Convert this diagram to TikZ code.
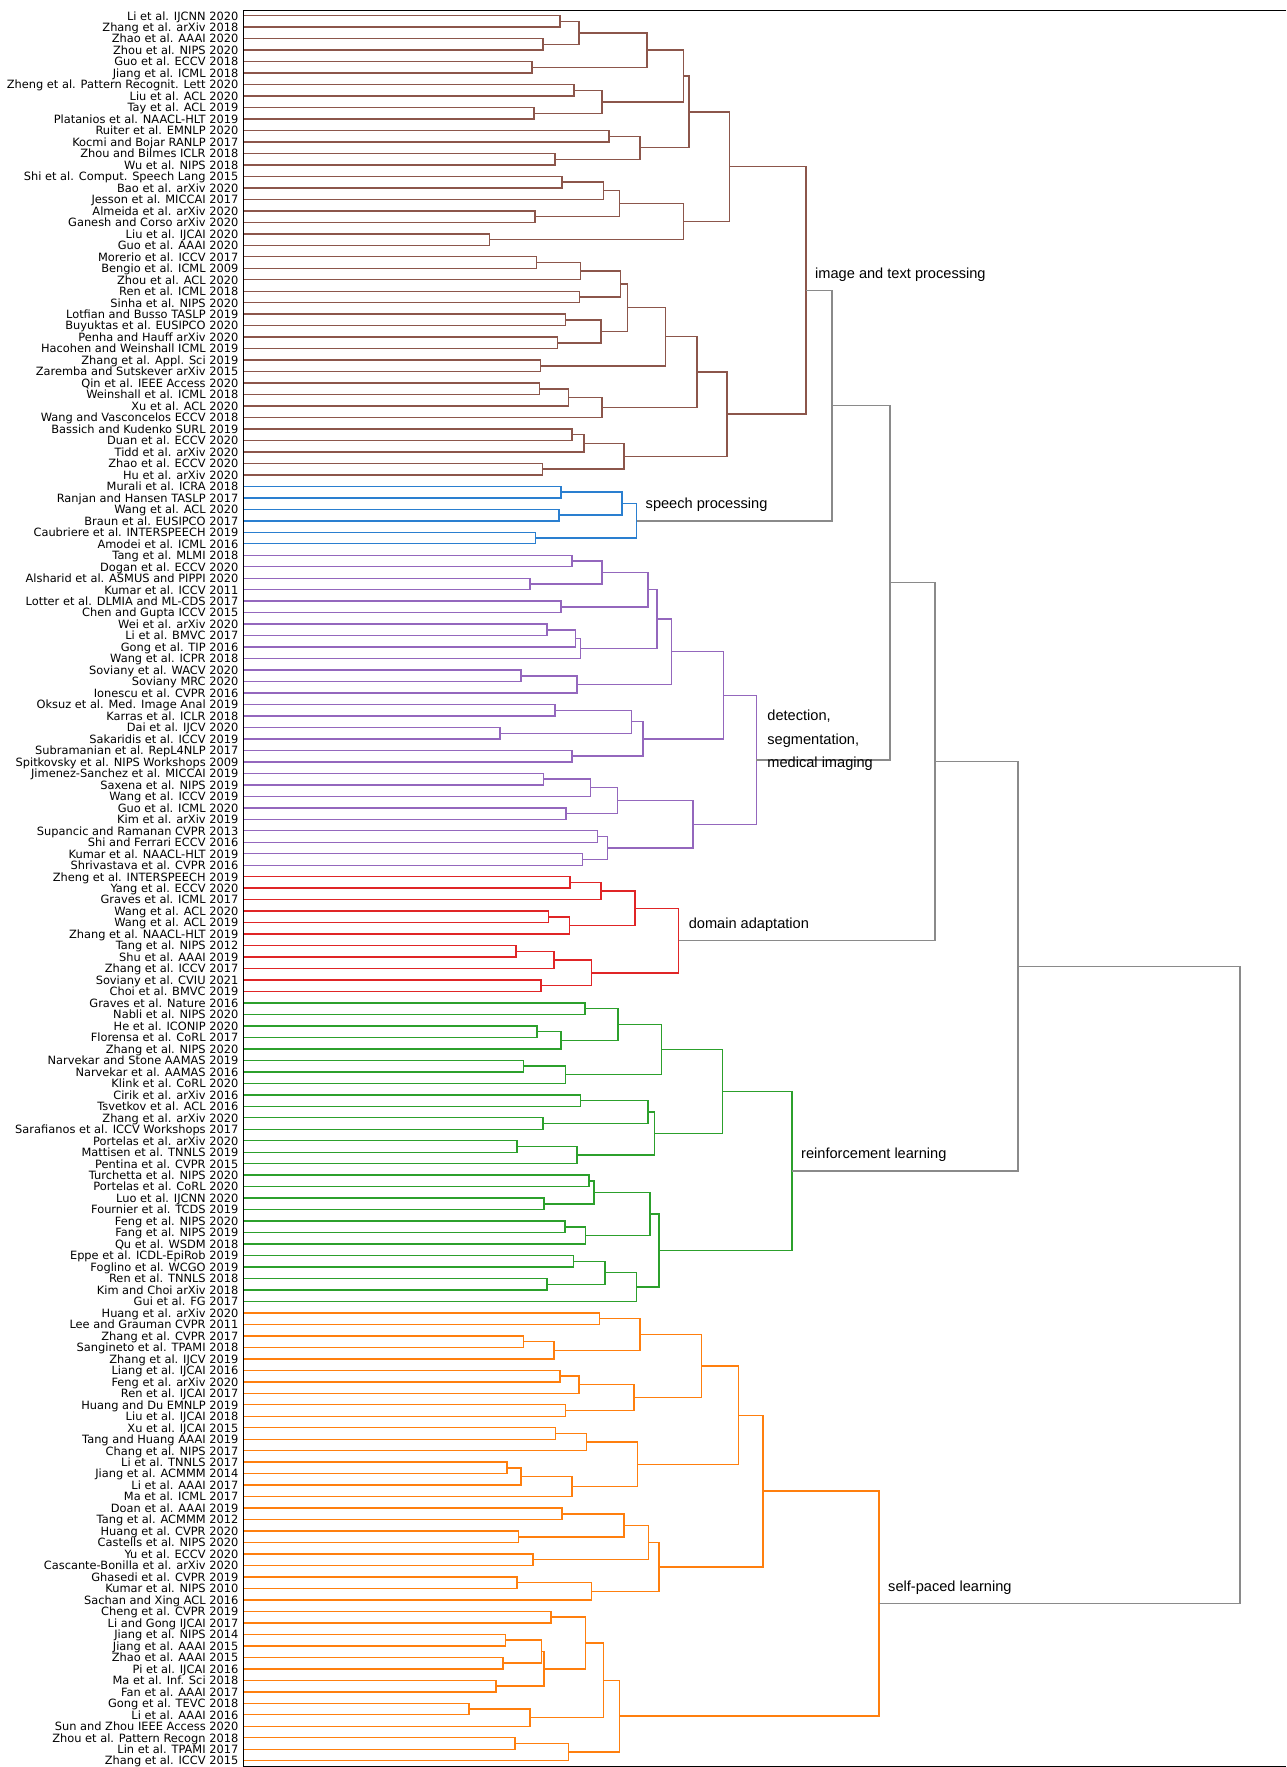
\documentclass[tikz,border=0pt]{standalone}
\usepackage{fontspec}
\setmainfont{DejaVu Sans}
\newfontfamily\lblfont{Liberation Sans}
\usetikzlibrary{calc}
\definecolor{cbrown}{HTML}{8C564B}
\definecolor{cblue}{HTML}{2A7FD0}
\definecolor{cpurple}{HTML}{9467BD}
\definecolor{cred}{HTML}{E02526}
\definecolor{cgreen}{HTML}{2CA02C}
\definecolor{corange}{HTML}{FF7F0E}
\definecolor{cgray}{HTML}{8A8A8A}
\tikzset{
  leaf/.style={anchor=base east, inner sep=0pt, font=\fontsize{11.4}{11.4}\selectfont},
  lk/.style={line width=1.4pt},
  bl/.style={lk, draw=cbrown},
  bu/.style={lk, draw=cblue},
  pu/.style={lk, draw=cpurple},
  rd/.style={lk, draw=cred},
  gr/.style={lk, draw=cgreen},
  or/.style={lk, draw=corange},
  gy/.style={lk, draw=cgray},
  clab/.style={anchor=west, inner sep=0pt, align=left, font=\lblfont\fontsize{14.6}{23.6}\selectfont},
  spine/.style={line width=0.9pt, draw=black}
}
\newcommand\mg[5]{%
  \coordinate (tmpm) at ($(#2)!0.5!(#3)$);
  \coordinate (tmph) at (#4,0);
  \coordinate (#1) at (tmpm -| tmph);
  \draw[#5] (#2) -- (#2 -| #1) -- (#3 -| #1) -- (#3);
}
\begin{document}
\begin{tikzpicture}[x=1pt,y=-1pt]
\useasboundingbox (0,0) rectangle (1286,1767);
\foreach \lab [count=\i] in {
Li et al. IJCNN 2020,
Zhang et al. arXiv 2018,
Zhao et al. AAAI 2020,
Zhou et al. NIPS 2020,
Guo et al. ECCV 2018,
Jiang et al. ICML 2018,
Zheng et al. Pattern Recognit. Lett 2020,
Liu et al. ACL 2020,
Tay et al. ACL 2019,
Platanios et al. NAACL-HLT 2019,
Ruiter et al. EMNLP 2020,
Kocmi and Bojar RANLP 2017,
Zhou and Bilmes ICLR 2018,
Wu et al. NIPS 2018,
Shi et al. Comput. Speech Lang 2015,
Bao et al. arXiv 2020,
Jesson et al. MICCAI 2017,
Almeida et al. arXiv 2020,
Ganesh and Corso arXiv 2020,
Liu et al. IJCAI 2020,
Guo et al. AAAI 2020,
Morerio et al. ICCV 2017,
Bengio et al. ICML 2009,
Zhou et al. ACL 2020,
Ren et al. ICML 2018,
Sinha et al. NIPS 2020,
Lotfian and Busso TASLP 2019,
Buyuktas et al. EUSIPCO 2020,
Penha and Hauff arXiv 2020,
Hacohen and Weinshall ICML 2019,
Zhang et al. Appl. Sci 2019,
Zaremba and Sutskever arXiv 2015,
Qin et al. IEEE Access 2020,
Weinshall et al. ICML 2018,
Xu et al. ACL 2020,
Wang and Vasconcelos ECCV 2018,
Bassich and Kudenko SURL 2019,
Duan et al. ECCV 2020,
Tidd et al. arXiv 2020,
Zhao et al. ECCV 2020,
Hu et al. arXiv 2020,
Murali et al. ICRA 2018,
Ranjan and Hansen TASLP 2017,
Wang et al. ACL 2020,
Braun et al. EUSIPCO 2017,
Caubriere et al. INTERSPEECH 2019,
Amodei et al. ICML 2016,
Tang et al. MLMI 2018,
Dogan et al. ECCV 2020,
Alsharid et al. ASMUS and PIPPI 2020,
Kumar et al. ICCV 2011,
Lotter et al. DLMIA and ML-CDS 2017,
Chen and Gupta ICCV 2015,
Wei et al. arXiv 2020,
Li et al. BMVC 2017,
Gong et al. TIP 2016,
Wang et al. ICPR 2018,
Soviany et al. WACV 2020,
Soviany MRC 2020,
Ionescu et al. CVPR 2016,
Oksuz et al. Med. Image Anal 2019,
Karras et al. ICLR 2018,
Dai et al. IJCV 2020,
Sakaridis et al. ICCV 2019,
Subramanian et al. RepL4NLP 2017,
Spitkovsky et al. NIPS Workshops 2009,
Jimenez-Sanchez et al. MICCAI 2019,
Saxena et al. NIPS 2019,
Wang et al. ICCV 2019,
Guo et al. ICML 2020,
Kim et al. arXiv 2019,
Supancic and Ramanan CVPR 2013,
Shi and Ferrari ECCV 2016,
Kumar et al. NAACL-HLT 2019,
Shrivastava et al. CVPR 2016,
Zheng et al. INTERSPEECH 2019,
Yang et al. ECCV 2020,
Graves et al. ICML 2017,
Wang et al. ACL 2020,
Wang et al. ACL 2019,
Zhang et al. NAACL-HLT 2019,
Tang et al. NIPS 2012,
Shu et al. AAAI 2019,
Zhang et al. ICCV 2017,
Soviany et al. CVIU 2021,
Choi et al. BMVC 2019,
Graves et al. Nature 2016,
Nabli et al. NIPS 2020,
He et al. ICONIP 2020,
Florensa et al. CoRL 2017,
Zhang et al. NIPS 2020,
Narvekar and Stone AAMAS 2019,
Narvekar et al. AAMAS 2016,
Klink et al. CoRL 2020,
Cirik et al. arXiv 2016,
Tsvetkov et al. ACL 2016,
Zhang et al. arXiv 2020,
Sarafianos et al. ICCV Workshops 2017,
Portelas et al. arXiv 2020,
Mattisen et al. TNNLS 2019,
Pentina et al. CVPR 2015,
Turchetta et al. NIPS 2020,
Portelas et al. CoRL 2020,
Luo et al. IJCNN 2020,
Fournier et al. TCDS 2019,
Feng et al. NIPS 2020,
Fang et al. NIPS 2019,
Qu et al. WSDM 2018,
Eppe et al. ICDL-EpiRob 2019,
Foglino et al. WCGO 2019,
Ren et al. TNNLS 2018,
Kim and Choi arXiv 2018,
Gui et al. FG 2017,
Huang et al. arXiv 2020,
Lee and Grauman CVPR 2011,
Zhang et al. CVPR 2017,
Sangineto et al. TPAMI 2018,
Zhang et al. IJCV 2019,
Liang et al. IJCAI 2016,
Feng et al. arXiv 2020,
Ren et al. IJCAI 2017,
Huang and Du EMNLP 2019,
Liu et al. IJCAI 2018,
Xu et al. IJCAI 2015,
Tang and Huang AAAI 2019,
Chang et al. NIPS 2017,
Li et al. TNNLS 2017,
Jiang et al. ACMMM 2014,
Li et al. AAAI 2017,
Ma et al. ICML 2017,
Doan et al. AAAI 2019,
Tang et al. ACMMM 2012,
Huang et al. CVPR 2020,
Castells et al. NIPS 2020,
Yu et al. ECCV 2020,
Cascante-Bonilla et al. arXiv 2020,
Ghasedi et al. CVPR 2019,
Kumar et al. NIPS 2010,
Sachan and Xing ACL 2016,
Cheng et al. CVPR 2019,
Li and Gong IJCAI 2017,
Jiang et al. NIPS 2014,
Jiang et al. AAAI 2015,
Zhao et al. AAAI 2015,
Pi et al. IJCAI 2016,
Ma et al. Inf. Sci 2018,
Fan et al. AAAI 2017,
Gong et al. TEVC 2018,
Li et al. AAAI 2016,
Sun and Zhou IEEE Access 2020,
Zhou et al. Pattern Recogn 2018,
Lin et al. TPAMI 2017,
Zhang et al. ICCV 2015}{
  \coordinate (l\i) at (243.8, {15.7+(\i-1)*11.48});
  \node[leaf] (t\i) at (238.5, {15.7+(\i-1)*11.48+4.3}) {\lab};
}
% brown
\mg{b1}{l1}{l2}{560}{bl}
\mg{b2}{l3}{l4}{543}{bl}
\mg{b3}{b1}{b2}{579}{bl}
\mg{b4}{l5}{l6}{532}{bl}
\mg{b5}{b3}{b4}{647}{bl}
\mg{b6}{l7}{l8}{574}{bl}
\mg{b7}{l9}{l10}{534}{bl}
\mg{b8}{b6}{b7}{602}{bl}
\mg{b9}{b5}{b8}{683.5}{bl}
\mg{b10}{l11}{l12}{609}{bl}
\mg{b11}{l13}{l14}{555}{bl}
\mg{b12}{b10}{b11}{640}{bl}
\mg{b13}{b9}{b12}{689}{bl}
\mg{b14}{l15}{l16}{562}{bl}
\mg{b15}{b14}{l17}{603.5}{bl}
\mg{b16}{l18}{l19}{535}{bl}
\mg{b17}{b15}{b16}{619.5}{bl}
\mg{b18}{l20}{l21}{489.6}{bl}
\mg{b19}{b17}{b18}{683.5}{bl}
\mg{b20}{b13}{b19}{729.5}{bl}
\mg{b21}{l22}{l23}{536.6}{bl}
\mg{b22}{b21}{l24}{580.7}{bl}
\mg{b23}{l25}{l26}{579.7}{bl}
\mg{b24}{b22}{b23}{620.5}{bl}
\mg{b25}{l27}{l28}{565.7}{bl}
\mg{b26}{l29}{l30}{557.4}{bl}
\mg{b27}{b25}{b26}{601}{bl}
\mg{b28}{b24}{b27}{627.7}{bl}
\mg{b29}{l31}{l32}{540.5}{bl}
\mg{b30}{b28}{b29}{665.5}{bl}
\mg{b31}{l33}{l34}{539.5}{bl}
\mg{b32}{b31}{l35}{568.6}{bl}
\mg{b33}{b32}{l36}{602}{bl}
\mg{b34}{b30}{b33}{697}{bl}
\mg{b35}{l37}{l38}{572}{bl}
\mg{b36}{b35}{l39}{584}{bl}
\mg{b37}{l40}{l41}{542.4}{bl}
\mg{b38}{b36}{b37}{624}{bl}
\mg{b39}{b34}{b38}{727}{bl}
\mg{broot}{b20}{b39}{806}{bl}
% blue
\mg{c1}{l42}{l43}{561}{bu}
\mg{c2}{l44}{l45}{559}{bu}
\mg{c3}{c1}{c2}{622}{bu}
\mg{c4}{l46}{l47}{535.6}{bu}
\mg{croot}{c3}{c4}{636.5}{bu}
% purple
\mg{p1}{l48}{l49}{572}{pu}
\mg{p2}{l50}{l51}{530}{pu}
\mg{p3}{p1}{p2}{602}{pu}
\mg{p4}{l52}{l53}{561}{pu}
\mg{p5}{p3}{p4}{648}{pu}
\mg{p6}{l54}{l55}{546.8}{pu}
\mg{p7}{p6}{l56}{575.4}{pu}
\mg{p8}{p7}{l57}{580.2}{pu}
\mg{p9}{p5}{p8}{657}{pu}
\mg{p10}{l58}{l59}{521}{pu}
\mg{p11}{p10}{l60}{576.8}{pu}
\mg{p12}{p9}{p11}{671.4}{pu}
\mg{p13}{l61}{l62}{555}{pu}
\mg{p14}{l63}{l64}{500}{pu}
\mg{p15}{p13}{p14}{631.6}{pu}
\mg{p16}{l65}{l66}{572}{pu}
\mg{p17}{p15}{p16}{643}{pu}
\mg{p18}{p12}{p17}{723.7}{pu}
\mg{p19}{l67}{l68}{543.4}{pu}
\mg{p20}{p19}{l69}{590.4}{pu}
\mg{p21}{l70}{l71}{566}{pu}
\mg{p22}{p20}{p21}{617.5}{pu}
\mg{p23}{l72}{l73}{597.7}{pu}
\mg{p24}{l74}{l75}{582.6}{pu}
\mg{p25}{p23}{p24}{607.4}{pu}
\mg{p26}{p22}{p25}{693}{pu}
\mg{proot}{p18}{p26}{756.2}{pu}
% red
\mg{r1}{l76}{l77}{570}{rd}
\mg{r2}{r1}{l78}{601}{rd}
\mg{r3}{l79}{l80}{548.7}{rd}
\mg{r4}{r3}{l81}{569.6}{rd}
\mg{r5}{r2}{r4}{635}{rd}
\mg{r6}{l82}{l83}{515.8}{rd}
\mg{r7}{r6}{l84}{554}{rd}
\mg{r8}{l85}{l86}{541}{rd}
\mg{r9}{r7}{r8}{591.4}{rd}
\mg{rroot}{r5}{r9}{678.6}{rd}
% green
\mg{g1}{l87}{l88}{585}{gr}
\mg{g2}{l89}{l90}{537}{gr}
\mg{g3}{g2}{l91}{561}{gr}
\mg{g4}{g1}{g3}{618}{gr}
\mg{g5}{l92}{l93}{523.5}{gr}
\mg{g6}{g5}{l94}{565.7}{gr}
\mg{g7}{g4}{g6}{661.7}{gr}
\mg{g8}{l95}{l96}{580.7}{gr}
\mg{g9}{l97}{l98}{543}{gr}
\mg{g10}{g8}{g9}{648}{gr}
\mg{g11}{l99}{l100}{517}{gr}
\mg{g12}{g11}{l101}{577}{gr}
\mg{g13}{g10}{g12}{654.4}{gr}
\mg{g14}{g7}{g13}{722.3}{gr}
\mg{g15}{l102}{l103}{589}{gr}
\mg{g16}{l104}{l105}{544}{gr}
\mg{g17}{g15}{g16}{593.8}{gr}
\mg{g18}{l106}{l107}{565}{gr}
\mg{g19}{g18}{l108}{585.6}{gr}
\mg{g20}{g17}{g19}{650}{gr}
\mg{g21}{l109}{l110}{573.4}{gr}
\mg{g22}{l111}{l112}{546.8}{gr}
\mg{g23}{g21}{g22}{605}{gr}
\mg{g24}{g23}{l113}{636.5}{gr}
\mg{g25}{g20}{g24}{659}{gr}
\mg{groot}{g14}{g25}{792}{gr}
% orange
\mg{o1}{l114}{l115}{599.6}{or}
\mg{o2}{l116}{l117}{523.5}{or}
\mg{o3}{o2}{l118}{554}{or}
\mg{o4}{o1}{o3}{640}{or}
\mg{o5}{l119}{l120}{560}{or}
\mg{o6}{o5}{l121}{579}{or}
\mg{o7}{l122}{l123}{565.7}{or}
\mg{o8}{o6}{o7}{634}{or}
\mg{o9}{o4}{o8}{701.4}{or}
\mg{o10}{l124}{l125}{555.5}{or}
\mg{o11}{o10}{l126}{586.5}{or}
\mg{o12}{l127}{l128}{507}{or}
\mg{o13}{o12}{l129}{521}{or}
\mg{o14}{o13}{l130}{572}{or}
\mg{o15}{o11}{o14}{637.4}{or}
\mg{o16}{o9}{o15}{738.3}{or}
\mg{o17}{l131}{l132}{562}{or}
\mg{o18}{l133}{l134}{518.7}{or}
\mg{o19}{o17}{o18}{624}{or}
\mg{o20}{l135}{l136}{533}{or}
\mg{o21}{o19}{o20}{648.6}{or}
\mg{o22}{l137}{l138}{517}{or}
\mg{o23}{o22}{l139}{591.4}{or}
\mg{o24}{o21}{o23}{659}{or}
\mg{o25}{o16}{o24}{763}{or}
\mg{o26}{l140}{l141}{551}{or}
\mg{o27}{l142}{l143}{505.6}{or}
\mg{o28}{l144}{l145}{503}{or}
\mg{o29}{o27}{o28}{541.5}{or}
\mg{o30}{l146}{l147}{496}{or}
\mg{o31}{o29}{o30}{544}{or}
\mg{o32}{o26}{o31}{585.6}{or}
\mg{o33}{l148}{l149}{469}{or}
\mg{o34}{o33}{l150}{530}{or}
\mg{o35}{o32}{o34}{603.5}{or}
\mg{o36}{l151}{l152}{514.8}{or}
\mg{o37}{o36}{l153}{568.6}{or}
\mg{o38}{o35}{o37}{619.5}{or}
\mg{oroot}{o25}{o38}{879}{or}
% gray upper links
\mg{G1}{broot}{croot}{832}{gy}
\mg{G2}{G1}{proot}{890}{gy}
\mg{G3}{G2}{rroot}{935}{gy}
\mg{G4}{G3}{groot}{1018}{gy}
\mg{G5}{G4}{oroot}{1240}{gy}
% cluster labels
\node[clab] (lab1) at ($(broot)+(9,-16)$) {image and text processing};
\node[clab] (lab2) at ($(croot)+(9,-16)$) {speech processing};
\node[clab] (lab3) at ($(proot)+(11,-19.5)$) {detection,\\segmentation,\\medical imaging};
\node[clab] (lab4) at ($(rroot)+(10,-16)$) {domain adaptation};
\node[clab] (lab5) at ($(groot)+(9,-16)$) {reinforcement learning};
\node[clab] (lab6) at ($(oroot)+(9,-16)$) {self-paced learning};
% axes spines
\coordinate (sp1) at (243.8,10);
\coordinate (sp2) at (1286,10);
\coordinate (sp3) at (243.8,1766.5);
\coordinate (sp4) at (1286,1766.5);
\draw[spine] (sp2) -- (sp1) -- (sp3) -- (sp4);
\end{tikzpicture}
\end{document}
